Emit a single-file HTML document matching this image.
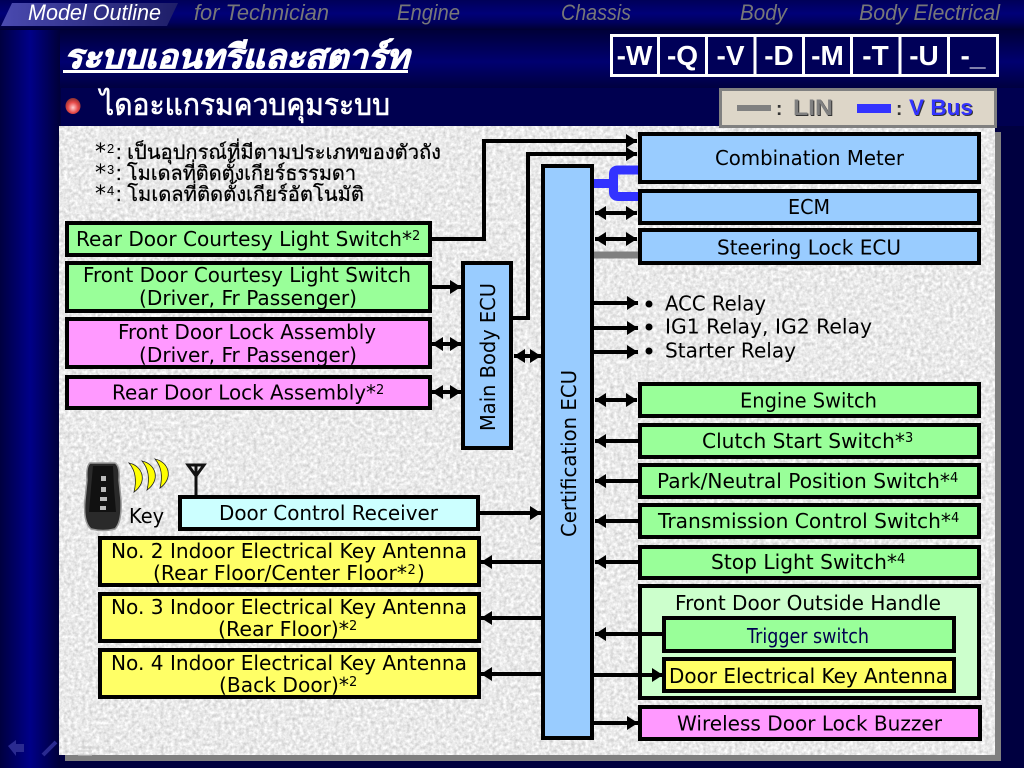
<!DOCTYPE html>
<html><head><meta charset="utf-8"><style>
html,body{margin:0;padding:0;background:#000040;width:1024px;height:768px;overflow:hidden}
svg{display:block}
.t{font-family:"DejaVu Sans","Liberation Sans",sans-serif;font-size:20px;fill:#000}
.th{font-family:"Liberation Sans","DejaVu Sans","Noto Sans CJK SC",sans-serif}
.n{font-family:"Liberation Sans",sans-serif;font-style:italic;font-size:22px;fill:#777}
.b{stroke:#000;stroke-width:4}
.a{stroke:#000;stroke-width:4;fill:none}
.s{font-size:13px}
</style></head><body>
<svg xmlns="http://www.w3.org/2000/svg" width="1024" height="768" viewBox="0 0 1024 768">
<defs>
<linearGradient id="top" x1="0" y1="0" x2="0" y2="1"><stop offset="0" stop-color="#000058"/><stop offset=".45" stop-color="#000078"/><stop offset=".75" stop-color="#00005c"/><stop offset="1" stop-color="#000030"/></linearGradient>
<linearGradient id="mid" x1="0" y1="0" x2="0" y2="1"><stop offset="0" stop-color="#000038"/><stop offset=".55" stop-color="#000070"/><stop offset="1" stop-color="#000040"/></linearGradient>
<linearGradient id="left" x1="0" y1="0" x2="1" y2="0"><stop offset="0" stop-color="#000040"/><stop offset=".5" stop-color="#000088"/><stop offset="1" stop-color="#000038"/></linearGradient>
<linearGradient id="tab" x1="0" y1="0" x2="1" y2="0"><stop offset="0" stop-color="#4a4ab0"/><stop offset=".5" stop-color="#32328a"/><stop offset="1" stop-color="#1e1e68"/></linearGradient>
<radialGradient id="led" cx=".5" cy=".6" r=".6"><stop offset="0" stop-color="#ffd0d0"/><stop offset=".55" stop-color="#e84a4a"/><stop offset="1" stop-color="#8a3030"/></radialGradient>
<filter id="paper" x="0" y="0" width="100%" height="100%" color-interpolation-filters="sRGB"><feTurbulence type="fractalNoise" baseFrequency=".28" numOctaves="3" seed="4"/><feColorMatrix type="matrix" values=".32 0 0 0 .755  .32 0 0 0 .755  .32 0 0 0 .755  0 0 0 0 1"/></filter>
<marker id="h" markerUnits="userSpaceOnUse" markerWidth="12" markerHeight="14" refX="11" refY="7" orient="auto-start-reverse"><path d="M0 0L11 7L0 14Z" fill="#000"/></marker>
</defs>
<rect width="1024" height="768" fill="#000040"/>
<rect width="1024" height="30" fill="url(#top)"/>
<rect y="30" width="1024" height="58" fill="url(#mid)"/>
<rect y="30" width="60" height="738" fill="url(#left)"/>
<rect x="61" y="88" width="963" height="38" fill="#000050"/>
<rect x="1001" y="126" width="23" height="642" fill="#000040"/>
<rect x="65" y="132" width="936" height="629" fill="#808080"/>
<rect x="59" y="126" width="936" height="629" fill="#e6e6e6"/>
<rect x="59" y="126" width="936" height="629" filter="url(#paper)"/>
<path d="M12 3H178L167 26H1Z" fill="url(#tab)"/>
<text x="28" y="20" class="n" style="fill:#fff" textLength="133" lengthAdjust="spacingAndGlyphs">Model Outline</text>
<text x="194" y="20" class="n" textLength="135" lengthAdjust="spacingAndGlyphs">for Technician</text>
<text x="397" y="20" class="n" textLength="63" lengthAdjust="spacingAndGlyphs">Engine</text>
<text x="561" y="20" class="n" textLength="70" lengthAdjust="spacingAndGlyphs">Chassis</text>
<text x="740" y="20" class="n" textLength="47" lengthAdjust="spacingAndGlyphs">Body</text>
<text x="859" y="20" class="n" textLength="141" lengthAdjust="spacingAndGlyphs">Body Electrical</text>
<text x="64" y="68" class="th" font-size="33" font-weight="bold" font-style="italic" fill="#fff" stroke="#fff" stroke-width=".8" textLength="345" lengthAdjust="spacingAndGlyphs">ระบบเอนทรีและสตาร์ท</text>
<rect x="63" y="70" width="345" height="3" fill="#fff"/>
<ellipse cx="73" cy="106" rx="7.5" ry="8" fill="url(#led)"/>
<text x="100" y="115" class="th" font-size="30" fill="#fff" stroke="#fff" stroke-width=".6" textLength="290" lengthAdjust="spacingAndGlyphs">ไดอะแกรมควบคุมระบบ</text>
<rect x="611.500" y="35.500" width="386" height="40" fill="#000058" stroke="#fff" stroke-width="3"/>
<path d="M658.500 35V76M706.500 35V76M755 35V76M803.500 35V76M851.500 35V76M900 35V76M948.500 35V76" stroke="#fff" stroke-width="3"/>
<g font-family="Liberation Sans,sans-serif" font-weight="bold" font-size="28" fill="#fff" text-anchor="middle">
<text x="634.500" y="65">-W</text><text x="682.500" y="65">-Q</text><text x="730.500" y="65">-V</text><text x="779" y="65">-D</text><text x="827.500" y="65">-M</text><text x="875.500" y="65">-T</text><text x="924" y="65">-U</text><text x="973" y="65">-_</text>
</g>
<rect x="720.500" y="89.500" width="275" height="37" fill="#ddd6c8" stroke="#808080" stroke-width="3"/>
<rect x="737" y="105" width="34" height="6" fill="#808080"/>
<text x="776" y="115" font-family="Liberation Sans,sans-serif" font-weight="bold" font-size="19" fill="#333">:</text>
<g font-family="Liberation Sans,sans-serif" font-weight="bold" font-size="22">
<text x="794" y="116" fill="#333" textLength="40" lengthAdjust="spacingAndGlyphs">LIN</text>
<text x="793" y="115" fill="#808080" textLength="40" lengthAdjust="spacingAndGlyphs">LIN</text>
</g>
<rect x="857" y="104" width="34" height="9" fill="#3333ff"/>
<text x="896" y="115" font-family="Liberation Sans,sans-serif" font-weight="bold" font-size="19" fill="#333">:</text>
<g font-family="Liberation Sans,sans-serif" font-weight="bold" font-size="22">
<text x="910" y="116" fill="#333" textLength="64" lengthAdjust="spacingAndGlyphs">V Bus</text>
<text x="909" y="115" fill="#3333ff" textLength="64" lengthAdjust="spacingAndGlyphs">V Bus</text>
</g>
<g class="th" font-size="20" fill="#000" stroke="#000" stroke-width=".3">
<text x="95" y="159" font-family="DejaVu Sans" font-size="22" stroke="none">*</text><text x="107" y="153" font-size="13" stroke="none">2</text>
<text x="116" y="159" textLength="325" lengthAdjust="spacingAndGlyphs">: เป็นอุปกรณ์ที่มีตามประเภทของตัวถัง</text>
<text x="95" y="180" font-family="DejaVu Sans" font-size="22" stroke="none">*</text><text x="107" y="174" font-size="13" stroke="none">3</text>
<text x="116" y="180" textLength="240" lengthAdjust="spacingAndGlyphs">: โมเดลที่ติดตั้งเกียร์ธรรมดา</text>
<text x="95" y="201" font-family="DejaVu Sans" font-size="22" stroke="none">*</text><text x="107" y="195" font-size="13" stroke="none">4</text>
<text x="116" y="201" textLength="248" lengthAdjust="spacingAndGlyphs">: โมเดลที่ติดตั้งเกียร์อัตโนมัติ</text>
</g>
<!-- connectors -->
<path class="a" d="M431 239H484V141H637" marker-end="url(#h)"/>
<path class="a" d="M513 318H528V154H637" marker-end="url(#h)"/>
<path d="M594 183.500H613.500M638 170H618Q613.500 170 613.500 174V192Q613.500 196.500 618 196.500H638" fill="none" stroke="#3333ff" stroke-width="9"/>
<path d="M594 255H638" stroke="#808080" stroke-width="7"/>
<g class="a">
<path d="M595 213H637" marker-start="url(#h)" marker-end="url(#h)"/>
<path d="M595 239H637" marker-start="url(#h)" marker-end="url(#h)"/>
<path d="M594 303H638" marker-end="url(#h)"/>
<path d="M594 328H638" marker-end="url(#h)"/>
<path d="M594 352H638" marker-end="url(#h)"/>
<path d="M431 287H461" marker-end="url(#h)"/>
<path d="M432 344H461" marker-start="url(#h)" marker-end="url(#h)"/>
<path d="M432 392H461" marker-start="url(#h)" marker-end="url(#h)"/>
<path d="M514 356H541" marker-start="url(#h)" marker-end="url(#h)"/>
<path d="M595 400H637" marker-start="url(#h)" marker-end="url(#h)"/>
<path d="M638 441H595" marker-end="url(#h)"/>
<path d="M638 481H595" marker-end="url(#h)"/>
<path d="M638 521H595" marker-end="url(#h)"/>
<path d="M638 562H595" marker-end="url(#h)"/>
<path d="M480 513H541" marker-end="url(#h)"/>
<path d="M541 562H481" marker-end="url(#h)"/>
<path d="M541 618H481" marker-end="url(#h)"/>
<path d="M541 674H481" marker-end="url(#h)"/>
<path d="M594 723H638" marker-end="url(#h)"/>
</g>
<!-- boxes -->
<g class="b">
<rect x="640" y="134" width="339" height="48" fill="#99ccff"/>
<rect x="640" y="191" width="339" height="32" fill="#99ccff"/>
<rect x="640" y="230" width="339" height="33" fill="#99ccff"/>
<rect x="543" y="166" width="49" height="572" fill="#99ccff"/>
<rect x="463" y="263" width="48" height="185" fill="#99ccff"/>
<rect x="67" y="223" width="363" height="32" fill="#99ff99"/>
<rect x="67" y="263" width="363" height="48" fill="#99ff99"/>
<rect x="67" y="319" width="363" height="48" fill="#ff99ff"/>
<rect x="67" y="377" width="363" height="31" fill="#ff99ff"/>
<rect x="180" y="497" width="298" height="32" fill="#ccffff"/>
<rect x="100" y="538" width="379" height="47" fill="#ffff66"/>
<rect x="100" y="594" width="379" height="47" fill="#ffff66"/>
<rect x="100" y="650" width="379" height="47" fill="#ffff66"/>
<rect x="640" y="384" width="339" height="32" fill="#99ff99"/>
<rect x="640" y="425" width="339" height="32" fill="#99ff99"/>
<rect x="640" y="465" width="339" height="32" fill="#99ff99"/>
<rect x="640" y="505" width="339" height="32" fill="#99ff99"/>
<rect x="640" y="547" width="339" height="31" fill="#99ff99"/>
<rect x="640" y="586" width="339" height="112" fill="#ccffcc"/>
<rect x="664" y="618" width="290" height="33" fill="#99ff99"/>
<rect x="664" y="659" width="290" height="32" fill="#ffff66"/>
<rect x="640" y="707" width="340" height="32" fill="#ff99ff"/>
</g>
<path class="a" d="M662 634H595" marker-end="url(#h)"/>
<path class="a" d="M594 675H663" marker-end="url(#h)"/>
<!-- labels -->
<g class="t">
<text x="715" y="165" textLength="189" lengthAdjust="spacingAndGlyphs">Combination Meter</text>
<text x="788" y="214" textLength="42" lengthAdjust="spacingAndGlyphs">ECM</text>
<text x="717" y="254.500" textLength="184" lengthAdjust="spacingAndGlyphs">Steering Lock ECU</text>
<text x="740" y="407.500" textLength="137" lengthAdjust="spacingAndGlyphs">Engine Switch</text>
<text x="702" y="448" textLength="203" lengthAdjust="spacingAndGlyphs">Clutch Start Switch*</text><text class="s" x="905" y="442">3</text>
<text x="657" y="488" textLength="293" lengthAdjust="spacingAndGlyphs">Park/Neutral Position Switch*</text><text class="s" x="950" y="482">4</text>
<text x="658" y="528" textLength="293" lengthAdjust="spacingAndGlyphs">Transmission Control Switch*</text><text class="s" x="951" y="522">4</text>
<text x="711" y="569" textLength="186" lengthAdjust="spacingAndGlyphs">Stop Light Switch*</text><text class="s" x="897" y="563">4</text>
<text x="675" y="610" textLength="266" lengthAdjust="spacingAndGlyphs">Front Door Outside Handle</text>
<text x="747" y="643" textLength="122" lengthAdjust="spacingAndGlyphs" style="fill:#000050">Trigger switch</text>
<text x="669" y="683" textLength="279" lengthAdjust="spacingAndGlyphs">Door Electrical Key Antenna</text>
<text x="677" y="730.500" textLength="265" lengthAdjust="spacingAndGlyphs">Wireless Door Lock Buzzer</text>
<text x="76" y="246" textLength="336" lengthAdjust="spacingAndGlyphs">Rear Door Courtesy Light Switch*</text><text class="s" x="412" y="240">2</text>
<text x="83" y="282" textLength="328" lengthAdjust="spacingAndGlyphs">Front Door Courtesy Light Switch</text>
<text x="139" y="305" textLength="218" lengthAdjust="spacingAndGlyphs">(Driver, Fr Passenger)</text>
<text x="118" y="339" textLength="258" lengthAdjust="spacingAndGlyphs">Front Door Lock Assembly</text>
<text x="139" y="362" textLength="218" lengthAdjust="spacingAndGlyphs">(Driver, Fr Passenger)</text>
<text x="112" y="399.500" textLength="264" lengthAdjust="spacingAndGlyphs">Rear Door Lock Assembly*</text><text class="s" x="376" y="394">2</text>
<text x="219" y="520" textLength="219" lengthAdjust="spacingAndGlyphs">Door Control Receiver</text>
<text x="111" y="558" textLength="356" lengthAdjust="spacingAndGlyphs">No. 2 Indoor Electrical Key Antenna</text>
<text x="153" y="580" textLength="254" lengthAdjust="spacingAndGlyphs">(Rear Floor/Center Floor*</text><text class="s" x="407.500" y="574">2</text><text x="417" y="580">)</text>
<text x="111" y="614" textLength="356" lengthAdjust="spacingAndGlyphs">No. 3 Indoor Electrical Key Antenna</text>
<text x="218" y="636" textLength="131" lengthAdjust="spacingAndGlyphs">(Rear Floor)*</text><text class="s" x="349" y="630">2</text>
<text x="111" y="670" textLength="356" lengthAdjust="spacingAndGlyphs">No. 4 Indoor Electrical Key Antenna</text>
<text x="219" y="692" textLength="130" lengthAdjust="spacingAndGlyphs">(Back Door)*</text><text class="s" x="349" y="686">2</text>
<text x="129" y="523" textLength="35" lengthAdjust="spacingAndGlyphs">Key</text>
<text x="665" y="310.500" textLength="101" lengthAdjust="spacingAndGlyphs">ACC Relay</text>
<text x="665" y="333.500" textLength="207" lengthAdjust="spacingAndGlyphs">IG1 Relay, IG2 Relay</text>
<text x="665" y="357.500" textLength="131" lengthAdjust="spacingAndGlyphs">Starter Relay</text>
<text transform="translate(495 431) rotate(-90)" textLength="148" lengthAdjust="spacingAndGlyphs">Main Body ECU</text>
<text transform="translate(576 537) rotate(-90)" textLength="167" lengthAdjust="spacingAndGlyphs">Certification ECU</text>
</g>
<circle cx="649" cy="304" r="3.500" fill="#000"/><circle cx="649" cy="327" r="3.500" fill="#000"/><circle cx="649" cy="351" r="3.500" fill="#000"/>
<!-- key fob -->
<path d="M90 463H115Q120 466 119 480L121 500Q122 522 115 529Q103 532 91 529Q83 522 85 500L87 480Q86 466 90 463Z" fill="#2a2a2a" stroke="#999" stroke-width="1.500"/>
<path d="M93 466H113L114 488L116 512H89L91 488Z" fill="#111"/>
<g fill="#bbb"><rect x="101" y="476" width="5" height="5"/><rect x="101" y="487" width="5" height="5"/><rect x="100" y="497" width="7" height="4"/><rect x="100" y="506" width="6" height="4"/></g>
<g fill="#ffff00" stroke="#222" stroke-width=".8">
<path d="M129 463C143 466 148 482 134 492C137 480 135 470 129 463Z"/>
<path d="M142 461C156 464 161 480 147 490C150 478 148 468 142 461Z"/>
<path d="M155 459C169 462 174 478 160 488C163 476 161 466 155 459Z"/>
</g>
<path d="M196 495V466M188 465H204L196 476Z" fill="none" stroke="#111" stroke-width="3"/>
<!-- nav icons -->
<path d="M8 746L16 740V744H24V752H16V756Z" fill="#2a2a90"/>
<path d="M43 755L56 742" stroke="#2a2a90" stroke-width="4"/>
<path d="M78 747H92M78 751H92M78 755H92" stroke="#ccc" stroke-width="1"/>
<path d="M110 746V752H118" stroke="#ccc" fill="none"/>
</svg>
</body></html>
